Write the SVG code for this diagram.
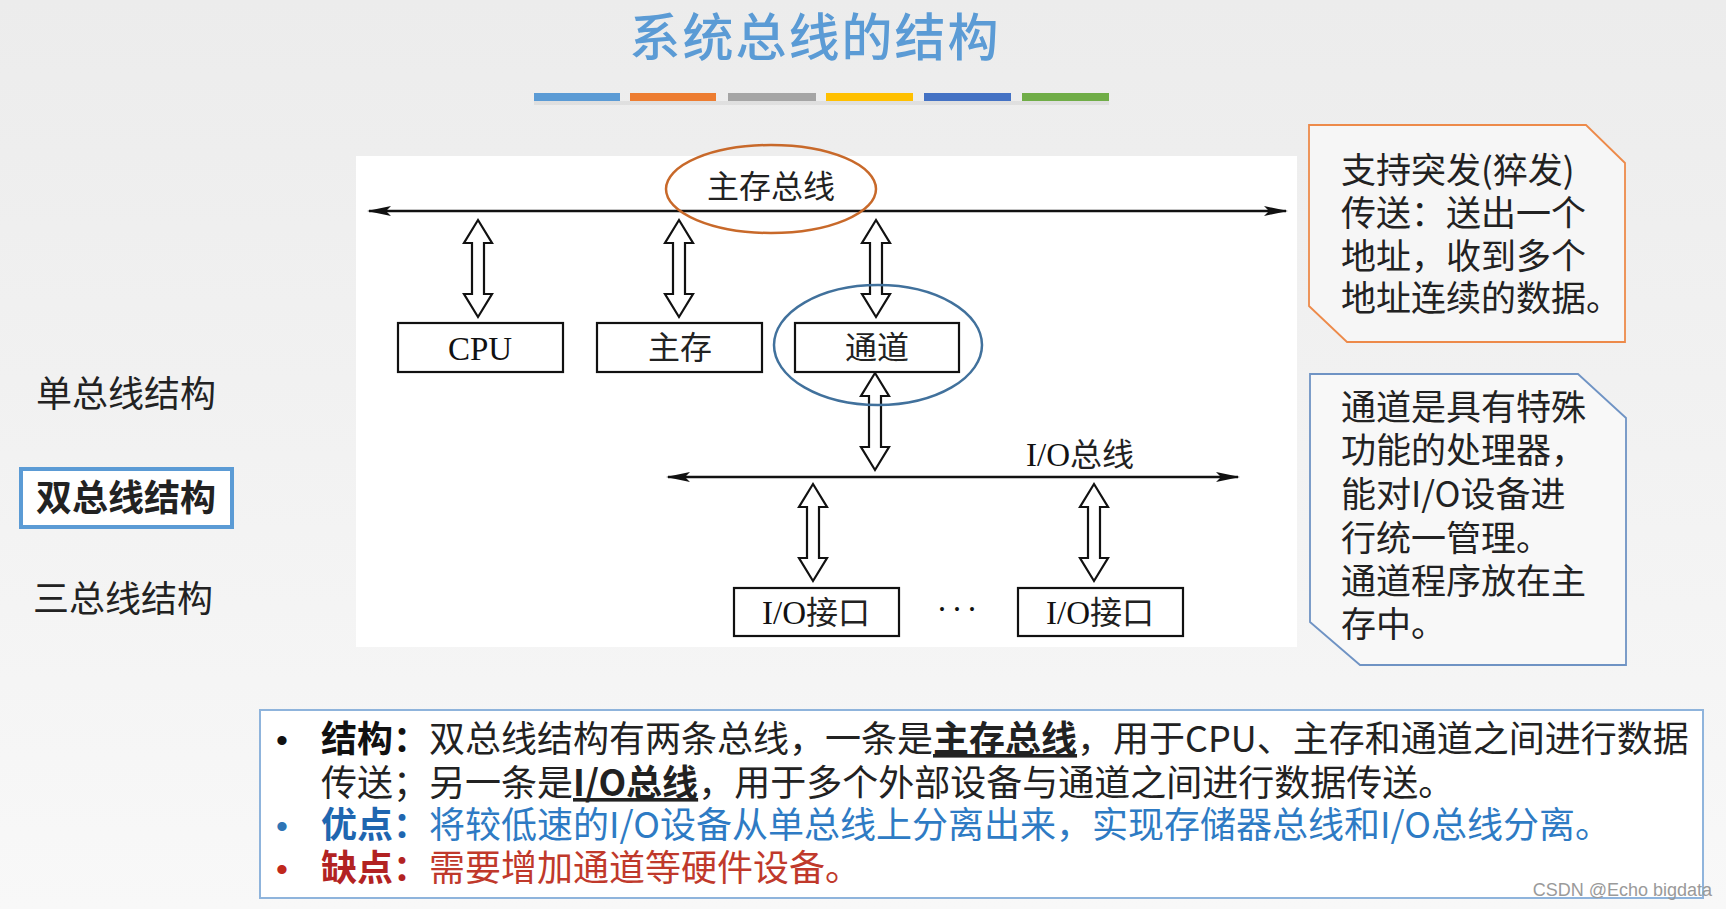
<svg xmlns="http://www.w3.org/2000/svg" width="1726" height="909" viewBox="0 0 1726 909">
  <defs>
    <linearGradient id="bg" x1="0" y1="0" x2="0" y2="1">
      <stop offset="0" stop-color="#ECECEC"/>
      <stop offset="1" stop-color="#F8F8F8"/>
    </linearGradient>
    <marker id="bushead" viewBox="0 0 24 12" refX="22" refY="6" markerWidth="24" markerHeight="12" markerUnits="userSpaceOnUse" orient="auto-start-reverse">
      <path d="M0,1 L24,6 L0,11 L5,6 Z" fill="#111"/>
    </marker>
    <path id="darrow" d="M0,0 L14,23 L6,23 L6,74 L14,74 L0,97 L-14,74 L-6,74 L-6,23 L-14,23 Z"/>
    <style>
      .cjk { font-family: "Noto Sans CJK SC", "Noto Sans", sans-serif; }
      .dia { font-family: "Liberation Serif", "Noto Sans CJK SC", serif; font-size: 33px; fill: #111; }
      .diacjk { font-family: "Noto Sans CJK SC", sans-serif; font-size: 32px; fill: #222; }
      .box { fill: #fff; stroke: #111; stroke-width: 2.2; }
      .bus { stroke: #111; stroke-width: 2.6; fill: none; marker-start: url(#bushead); marker-end: url(#bushead); }
      .harrow { fill: #fff; stroke: #111; stroke-width: 2.2; stroke-linejoin: miter; }
      .menu { font-family: "Noto Sans CJK SC", sans-serif; font-size: 36px; fill: #222; }
      .note { font-family: "Noto Sans CJK SC", sans-serif; font-size: 35px; fill: #222; }
      .body { font-family: "Noto Sans CJK SC", sans-serif; font-size: 36px; }
      .bullet { font-family: "Liberation Sans", sans-serif; font-size: 34px; }
    </style>
  </defs>

  <rect x="0" y="0" width="1726" height="909" fill="url(#bg)"/>

  <!-- Title -->
  <g id="title">
    <text x="815" y="56" text-anchor="middle" class="cjk" font-size="51" font-weight="500" fill="#5B9BD5" letter-spacing="2">系统总线的结构</text>
    <rect x="534" y="93" width="86" height="8" fill="#5B9BD5"/>
    <rect x="630" y="93" width="86" height="8" fill="#ED7D31"/>
    <rect x="728" y="93" width="88" height="8" fill="#A5A5A5"/>
    <rect x="826" y="93" width="87" height="8" fill="#FFC000"/>
    <rect x="924" y="93" width="87" height="8" fill="#4472C4"/>
    <rect x="1022" y="93" width="87" height="8" fill="#70AD47"/>
    <rect x="534" y="101" width="575" height="4" fill="#000" opacity="0.06"/>
  </g>

  <!-- Left menu -->
  <g id="menu">
    <text x="36" y="407" class="menu">单总线结构</text>
    <rect x="21" y="469" width="211" height="58" fill="#fff" stroke="#5B9BD5" stroke-width="4"/>
    <text x="36" y="511" class="menu" font-weight="bold" fill="#111">双总线结构</text>
    <text x="33" y="612" class="menu">三总线结构</text>
  </g>

  <!-- Diagram panel -->
  <rect x="356" y="156" width="941" height="491" fill="#fff"/>

  <g id="connectors">
    <line class="bus" x1="369" y1="211" x2="1286" y2="211"/>
    <line class="bus" x1="668" y1="477" x2="1238" y2="477"/>
    <use href="#darrow" class="harrow" x="478" y="220"/>
    <use href="#darrow" class="harrow" x="679" y="220"/>
    <use href="#darrow" class="harrow" x="876" y="220"/>
    <use href="#darrow" class="harrow" x="875" y="373"/>
    <use href="#darrow" class="harrow" x="813" y="484"/>
    <use href="#darrow" class="harrow" x="1094" y="484"/>
  </g>

  <g id="mainbus-label">
    <ellipse cx="771" cy="189" rx="105" ry="44" fill="none" stroke="#C8692A" stroke-width="2.5"/>
    <text x="771" y="198" text-anchor="middle" class="diacjk">主存总线</text>
  </g>

  <g id="cpu">
    <rect class="box" x="398" y="323" width="165" height="49"/>
    <text x="480" y="360" text-anchor="middle" class="dia">CPU</text>
  </g>
  <g id="memory">
    <rect class="box" x="597" y="323" width="165" height="49"/>
    <text x="680" y="359" text-anchor="middle" class="diacjk">主存</text>
  </g>
  <g id="channel">
    <rect class="box" x="795" y="323" width="164" height="49"/>
    <text x="877" y="359" text-anchor="middle" class="diacjk">通道</text>
    <ellipse cx="878" cy="345" rx="104" ry="60" fill="none" stroke="#41719C" stroke-width="2.5"/>
  </g>

  <g id="iobus-label">
    <text x="1080" y="466" text-anchor="middle" class="dia">I/O<tspan class="diacjk">总线</tspan></text>
  </g>

  <g id="io1">
    <rect class="box" x="734" y="588" width="165" height="48"/>
    <text x="816" y="624" text-anchor="middle" class="dia">I/O<tspan class="diacjk">接口</tspan></text>
  </g>
  <g id="dots">
    <text x="959" y="620" text-anchor="middle" class="dia" letter-spacing="4">···</text>
  </g>
  <g id="io2">
    <rect class="box" x="1018" y="588" width="165" height="48"/>
    <text x="1100" y="624" text-anchor="middle" class="dia">I/O<tspan class="diacjk">接口</tspan></text>
  </g>

  <!-- Callouts -->
  <g id="note-burst">
    <path d="M1309,125 L1586,125 L1625,163 L1625,342 L1347,342 L1309,306 Z" fill="#F6F6F6" stroke="#ED8A4A" stroke-width="1.8"/>
    <text class="note" x="1341" y="183">支持突发(猝发)</text>
    <text class="note" x="1341" y="226">传送：送出一个</text>
    <text class="note" x="1341" y="269">地址，收到多个</text>
    <text class="note" x="1341" y="311">地址连续的数据。</text>
  </g>
  <g id="note-channel">
    <path d="M1310,374 L1578,374 L1626,418 L1626,665 L1360,665 L1310,622 Z" fill="#F8F8F8" stroke="#6F93C4" stroke-width="1.8"/>
    <text class="note" x="1341" y="420">通道是具有特殊</text>
    <text class="note" x="1341" y="463">功能的处理器，</text>
    <text class="note" x="1341" y="507">能对I/O设备进</text>
    <text class="note" x="1341" y="551">行统一管理。</text>
    <text class="note" x="1341" y="594">通道程序放在主</text>
    <text class="note" x="1341" y="637">存中。</text>
  </g>

  <!-- Bottom summary -->
  <g id="summary">
    <rect x="260" y="710" width="1443" height="188" fill="#FFFFFF" stroke="#8FB4DC" stroke-width="2"/>
    <text class="bullet" x="276" y="752" fill="#111">•</text>
    <text class="body" x="321" y="752" fill="#222"><tspan font-weight="bold" fill="#111">结构：</tspan>双总线结构有两条总线，一条是<tspan font-weight="bold" text-decoration="underline">主存总线</tspan>，用于CPU、主存和通道之间进行数据</text>
    <text class="body" x="321" y="796" fill="#222">传送；另一条是<tspan font-weight="bold" text-decoration="underline">I/O总线</tspan>，用于多个外部设备与通道之间进行数据传送。</text>
    <text class="bullet" x="276" y="838" fill="#2E75B6">•</text>
    <text class="body" x="321" y="838" fill="#2E7BC4"><tspan font-weight="bold" fill="#1F66B0">优点：</tspan>将较低速的I/O设备从单总线上分离出来，实现存储器总线和I/O总线分离。</text>
    <text class="bullet" x="276" y="881" fill="#C0281C">•</text>
    <text class="body" x="321" y="881" fill="#C0392B"><tspan font-weight="bold" fill="#B22222">缺点：</tspan>需要增加通道等硬件设备。</text>
  </g>

  <text x="1712" y="896" text-anchor="end" font-family="Liberation Sans Narrow, Liberation Sans, sans-serif" font-size="18" fill="#9A9A9A">CSDN @Echo bigdata</text>
</svg>
